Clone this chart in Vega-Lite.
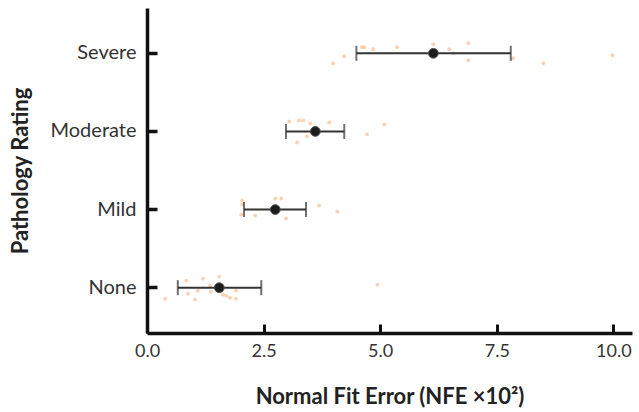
{
  "$schema": "https://vega.github.io/schema/vega-lite/v6.json",
  "width": 485,
  "height": 325,
  "autosize": "none",
  "padding": {"left": 147, "top": 8, "right": 7, "bottom": 79},
  "background": "white",
  "config": {"view": {"stroke": null}, "font": "Lato"},
  "datasets": {
    "points": [
      {"rating": "Severe", "nfe": 3.99, "jitter": 10},
      {"rating": "Severe", "nfe": 4.23, "jitter": 3},
      {"rating": "Severe", "nfe": 4.61, "jitter": -6},
      {"rating": "Severe", "nfe": 4.66, "jitter": -6},
      {"rating": "Severe", "nfe": 4.85, "jitter": -4},
      {"rating": "Severe", "nfe": 5.36, "jitter": -6},
      {"rating": "Severe", "nfe": 6.14, "jitter": -9},
      {"rating": "Severe", "nfe": 6.48, "jitter": -4},
      {"rating": "Severe", "nfe": 6.57, "jitter": 0},
      {"rating": "Severe", "nfe": 6.89, "jitter": -10},
      {"rating": "Severe", "nfe": 6.89, "jitter": 7},
      {"rating": "Severe", "nfe": 7.85, "jitter": 5},
      {"rating": "Severe", "nfe": 8.5, "jitter": 10},
      {"rating": "Severe", "nfe": 9.98, "jitter": 2},
      {"rating": "Moderate", "nfe": 3.05, "jitter": -10},
      {"rating": "Moderate", "nfe": 3.26, "jitter": -11},
      {"rating": "Moderate", "nfe": 3.35, "jitter": -11},
      {"rating": "Moderate", "nfe": 3.5, "jitter": -8},
      {"rating": "Moderate", "nfe": 3.91, "jitter": -9},
      {"rating": "Moderate", "nfe": 3.43, "jitter": 5},
      {"rating": "Moderate", "nfe": 3.22, "jitter": 11},
      {"rating": "Moderate", "nfe": 4.72, "jitter": 3},
      {"rating": "Moderate", "nfe": 5.09, "jitter": -7},
      {"rating": "Mild", "nfe": 2.04, "jitter": -9},
      {"rating": "Mild", "nfe": 2.04, "jitter": -5},
      {"rating": "Mild", "nfe": 2.02, "jitter": 5},
      {"rating": "Mild", "nfe": 2.32, "jitter": 6},
      {"rating": "Mild", "nfe": 2.75, "jitter": -11},
      {"rating": "Mild", "nfe": 2.88, "jitter": -11},
      {"rating": "Mild", "nfe": 2.98, "jitter": 9},
      {"rating": "Mild", "nfe": 3.69, "jitter": -4},
      {"rating": "Mild", "nfe": 4.08, "jitter": 2},
      {"rating": "None", "nfe": 0.39, "jitter": 11},
      {"rating": "None", "nfe": 0.84, "jitter": -7},
      {"rating": "None", "nfe": 1.2, "jitter": -9},
      {"rating": "None", "nfe": 1.55, "jitter": -11},
      {"rating": "None", "nfe": 0.88, "jitter": 6},
      {"rating": "None", "nfe": 1.09, "jitter": 3},
      {"rating": "None", "nfe": 1.03, "jitter": 12},
      {"rating": "None", "nfe": 1.35, "jitter": -2},
      {"rating": "None", "nfe": 1.37, "jitter": 4},
      {"rating": "None", "nfe": 1.63, "jitter": 7},
      {"rating": "None", "nfe": 1.7, "jitter": 8},
      {"rating": "None", "nfe": 1.78, "jitter": 10},
      {"rating": "None", "nfe": 1.91, "jitter": 3},
      {"rating": "None", "nfe": 1.91, "jitter": 11},
      {"rating": "None", "nfe": 4.94, "jitter": -3}
    ],
    "summary": [
      {"rating": "Severe", "mean": 6.14, "lo": 4.49, "hi": 7.8},
      {"rating": "Moderate", "mean": 3.61, "lo": 2.98, "hi": 4.23},
      {"rating": "Mild", "mean": 2.75, "lo": 2.08, "hi": 3.41},
      {"rating": "None", "mean": 1.55, "lo": 0.66, "hi": 2.45}
    ]
  },
  "encoding": {
    "y": {
      "field": "rating",
      "type": "nominal",
      "sort": ["Severe", "Moderate", "Mild", "None"],
      "scale": {"paddingInner": 0, "paddingOuter": 0.08},
      "axis": {
        "title": "Pathology Rating",
        "titleFontSize": 22,
        "titleFontWeight": "bold",
        "titleColor": "#222",
        "titlePadding": 18,
        "labelFontSize": 20,
        "labelColor": "#333",
        "labelPadding": 21,
        "domainColor": "#111",
        "domainWidth": 3.5,
        "tickColor": "#111",
        "tickWidth": 3.5,
        "tickSize": -10
      }
    }
  },
  "layer": [
    {
      "data": {"name": "points"},
      "mark": {"type": "circle", "color": "#f7b98a", "opacity": 0.65, "size": 15},
      "encoding": {
        "x": {
          "field": "nfe",
          "type": "quantitative",
          "scale": {"domain": [0, 10.4], "nice": false},
          "axis": {
            "title": "Normal Fit Error (NFE ×10²)",
            "values": [0, 2.5, 5, 7.5, 10],
            "format": ".1f",
            "titleFontSize": 22,
            "titleFontWeight": "bold",
            "titleColor": "#222",
            "titlePadding": 26,
            "labelFontSize": 18,
            "labelColor": "#333",
            "labelPadding": 18,
            "labelFlush": false,
            "domainColor": "#111",
            "domainWidth": 3.5,
            "tickColor": "#111",
            "tickWidth": 3,
            "tickSize": -9,
            "grid": false
          }
        },
        "yOffset": {
          "field": "jitter",
          "type": "quantitative",
          "scale": {"domain": [-39, 39], "range": [0, 78]}
        }
      }
    },
    {
      "data": {"name": "summary"},
      "mark": {"type": "rule", "color": "#333", "strokeWidth": 2},
      "encoding": {
        "x": {"field": "lo", "type": "quantitative"},
        "x2": {"field": "hi"}
      }
    },
    {
      "data": {"name": "summary"},
      "mark": {"type": "tick", "color": "#333", "thickness": 2, "size": 15, "orient": "vertical"},
      "encoding": {"x": {"field": "lo", "type": "quantitative"}}
    },
    {
      "data": {"name": "summary"},
      "mark": {"type": "tick", "color": "#333", "thickness": 2, "size": 15, "orient": "vertical"},
      "encoding": {"x": {"field": "hi", "type": "quantitative"}}
    },
    {
      "data": {"name": "summary"},
      "mark": {"type": "circle", "color": "#1c1c1c", "opacity": 1, "size": 95, "stroke": "#555", "strokeWidth": 1},
      "encoding": {"x": {"field": "mean", "type": "quantitative"}}
    }
  ]
}
